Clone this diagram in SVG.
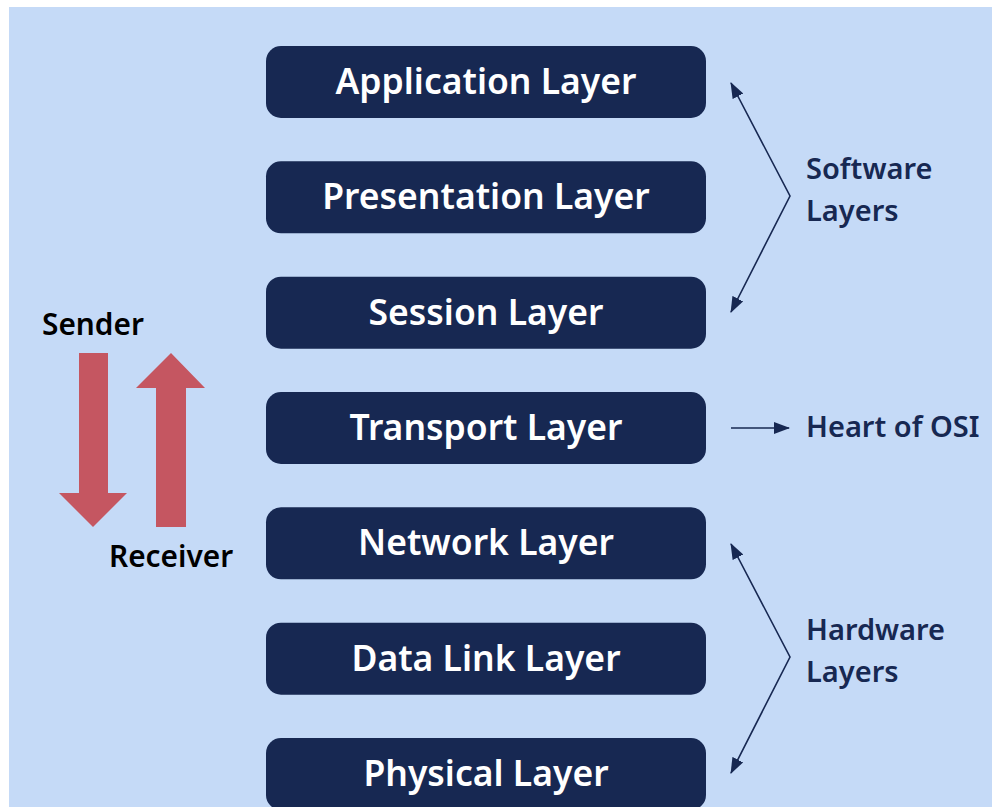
<svg xmlns="http://www.w3.org/2000/svg" width="992" height="807" viewBox="0 0 992 807">
  <defs>
    <marker id="tip" viewBox="0 0 16 12" refX="15" refY="6" markerWidth="16" markerHeight="12" markerUnits="userSpaceOnUse" orient="auto-start-reverse">
      <path d="M0,0 L16,6 L0,12 Z" fill="#172852"/>
    </marker>
    <style>
      .layer rect { fill: #172852; }
      .layer text { fill: #ffffff; font-family: "Noto Sans", "Open Sans", sans-serif; font-weight: 600; font-size: 35.5px; text-anchor: middle; }
      .note { fill: #172852; font-family: "Noto Sans", "Open Sans", sans-serif; font-weight: 600; font-size: 29px; }
      .dir { fill: #000000; font-family: "Noto Sans", "Open Sans", sans-serif; font-weight: 600; font-size: 29.8px; }
      .link { fill: none; stroke: #172852; stroke-width: 1.6; }
      .flow { fill: #c55661; }
    </style>
  </defs>

  <!-- backdrop -->
  <rect x="9" y="7" width="983" height="800" fill="#c5daf7"/>

  <!-- OSI layers, top to bottom -->
  <g id="application" class="layer">
    <rect x="266" y="46" width="440" height="72" rx="15"/>
    <text x="486" y="94">Application Layer</text>
  </g>
  <g id="presentation" class="layer">
    <rect x="266" y="161.3" width="440" height="72" rx="15"/>
    <text x="486" y="209.3">Presentation Layer</text>
  </g>
  <g id="session" class="layer">
    <rect x="266" y="276.7" width="440" height="72" rx="15"/>
    <text x="486" y="324.7">Session Layer</text>
  </g>
  <g id="transport" class="layer">
    <rect x="266" y="392" width="440" height="72" rx="15"/>
    <text x="486" y="440">Transport Layer</text>
  </g>
  <g id="network" class="layer">
    <rect x="266" y="507.3" width="440" height="72" rx="15"/>
    <text x="486" y="555.3">Network Layer</text>
  </g>
  <g id="datalink" class="layer">
    <rect x="266" y="622.7" width="440" height="72" rx="15"/>
    <text x="486" y="670.7">Data Link Layer</text>
  </g>
  <g id="physical" class="layer">
    <rect x="266" y="738" width="440" height="72" rx="15"/>
    <text x="486" y="786">Physical Layer</text>
  </g>

  <!-- sender / receiver direction -->
  <g id="sender">
    <text class="dir" x="42" y="335">Sender</text>
    <path class="flow" d="M79,353 H108 V493 H127 L93,527 L59,493 H79 Z"/>
  </g>
  <g id="receiver">
    <text class="dir" x="109" y="567">Receiver</text>
    <path class="flow" d="M156,527 H186 V388 H205 L171,353 L136,388 H156 Z"/>
  </g>

  <!-- group labels -->
  <g id="software-label">
    <text class="note" x="806" y="179">Software</text>
    <text class="note" x="806" y="221">Layers</text>
  </g>
  <g id="heart-label">
    <text class="note" x="806" y="437">Heart of OSI</text>
  </g>
  <g id="hardware-label">
    <text class="note" x="806" y="640">Hardware</text>
    <text class="note" x="806" y="682">Layers</text>
  </g>

  <!-- connectors -->
  <g id="connectors">
    <path class="link" d="M731,83 L790,196 L731,312" marker-start="url(#tip)" marker-end="url(#tip)"/>
    <path class="link" d="M731,428 H789" marker-end="url(#tip)"/>
    <path class="link" d="M731,544 L790,657 L731,773" marker-start="url(#tip)" marker-end="url(#tip)"/>
  </g>
</svg>
